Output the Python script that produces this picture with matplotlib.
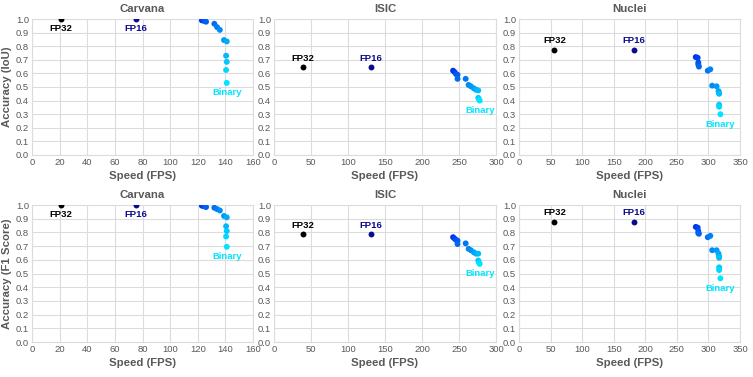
import numpy as np
import matplotlib
matplotlib.use('Agg')
import matplotlib.pyplot as plt

plt.rcParams['font.family'] = ['Liberation Sans', 'DejaVu Sans']

datasets = ['Carvana', 'ISIC', 'Nuclei']
x_max = [160, 300, 350]
x_step = [20, 50, 50]

# full precision baselines (FPS, IoU, F1)
fp32_fps = [21, 39, 56]
fp32_iou = [1.0, 0.645, 0.775]
fp32_f1 = [1.0, 0.785, 0.875]
fp16_fps = [75, 131, 182]
fp16_iou = [1.0, 0.645, 0.775]
fp16_f1 = [1.0, 0.785, 0.875]

# quantised sweeps, highest bit width first, binary last
carvana_fps = [123, 124, 125, 126, 132, 134, 136, 139, 141, 140.5, 141, 140.5, 141]
carvana_iou = [0.99, 0.99, 0.985, 0.98, 0.965, 0.94, 0.92, 0.845, 0.835, 0.73, 0.685, 0.625, 0.53]
carvana_f1 = [0.995, 0.995, 0.99, 0.985, 0.98, 0.97, 0.96, 0.92, 0.91, 0.845, 0.81, 0.77, 0.695]

isic_fps = [242, 244, 246, 248, 248, 259, 263, 266, 270, 273, 276, 276, 277, 278]
isic_iou = [0.62, 0.61, 0.595, 0.59, 0.56, 0.56, 0.515, 0.505, 0.49, 0.48, 0.475, 0.42, 0.41, 0.40]
isic_f1 = [0.765, 0.755, 0.745, 0.74, 0.715, 0.72, 0.68, 0.67, 0.655, 0.645, 0.645, 0.595, 0.58, 0.57]

nuclei_fps = [280, 283, 284, 284, 285, 299, 303, 306, 313, 316, 317, 317, 317, 317, 319]
nuclei_iou = [0.72, 0.715, 0.68, 0.665, 0.65, 0.62, 0.63, 0.51, 0.505, 0.47, 0.455, 0.45, 0.37, 0.355, 0.30]
nuclei_f1 = [0.84, 0.835, 0.81, 0.795, 0.79, 0.765, 0.775, 0.67, 0.67, 0.645, 0.625, 0.615, 0.545, 0.525, 0.465]

quant_fps = [carvana_fps, isic_fps, nuclei_fps]
quant_acc = [[carvana_iou, isic_iou, nuclei_iou], [carvana_f1, isic_f1, nuclei_f1]]
base_acc = [[fp32_iou, fp16_iou], [fp32_f1, fp16_f1]]
row_labels = ['Accuracy (IoU)', 'Accuracy (F1 Score)']

GRAY = '#595959'
GRID = '#dcdcdc'
NAVY = '#0a0a8c'
CYAN = '#00e5ff'

lefts = [0.0425, 0.3639, 0.6892]
widths = [0.2935, 0.2948, 0.2935]
bottoms = [0.5889, 0.0928]
heights = [0.3607, 0.3634]

fig = plt.figure(figsize=(7.53, 3.77), dpi=100)

for r in range(2):
    for c in range(3):
        ax = fig.add_axes([lefts[c], bottoms[r], widths[c], heights[r]])
        xs = quant_fps[c]
        ys = quant_acc[r][c]
        n = len(xs)
        t = np.linspace(0, 1, n)
        start = np.array([0.0, 0.2, 0.93])
        end = np.array([0.0, 0.9, 1.0])
        cols = [start + (end - start) * k for k in t]
        ax.scatter(xs, ys, s=18, c=cols, zorder=3, linewidths=0)

        y32 = base_acc[r][0][c]
        y16 = base_acc[r][1][c]
        ax.scatter([fp32_fps[c]], [y32], s=18, color='black', zorder=3, linewidths=0)
        ax.scatter([fp16_fps[c]], [y16], s=18, color=NAVY, zorder=3, linewidths=0)

        if y32 >= 0.97:
            off, va = -0.035, 'top'
        else:
            off, va = 0.035, 'bottom'
        ax.text(fp32_fps[c], y32 + off, 'FP32', color='black', fontsize=6.8,
                fontweight='bold', ha='center', va=va)
        ax.text(fp16_fps[c], y16 + off, 'FP16', color=NAVY, fontsize=6.8,
                fontweight='bold', ha='center', va=va)
        ax.text(xs[-1], ys[-1] - 0.04, 'Binary', color=CYAN, fontsize=6.8,
                fontweight='bold', ha='center', va='top')

        ax.set_xlim(0, x_max[c])
        ax.set_ylim(0, 1.0)
        ax.set_xticks(np.arange(0, x_max[c] + 1, x_step[c]))
        ax.set_yticks(np.arange(0, 1.01, 0.1))
        ax.set_yticklabels(['%.1f' % v for v in np.arange(0, 1.01, 0.1)])
        ax.grid(True, color=GRID, linewidth=0.8, zorder=0)
        ax.set_axisbelow(True)
        for sp in ax.spines.values():
            sp.set_color(GRID)
            sp.set_linewidth(0.8)
        ax.tick_params(colors=GRAY, labelsize=6.8, length=0, pad=2)
        ax.set_title(datasets[c], color=GRAY, fontsize=8.2, fontweight='bold', pad=5)
        ax.set_xlabel('Speed (FPS)', color=GRAY, fontsize=8.2, fontweight='bold', labelpad=3)
        if c == 0:
            ax.set_ylabel(row_labels[r], color=GRAY, fontsize=8.2, fontweight='bold', labelpad=3)

fig.savefig('out.png', dpi=100)
